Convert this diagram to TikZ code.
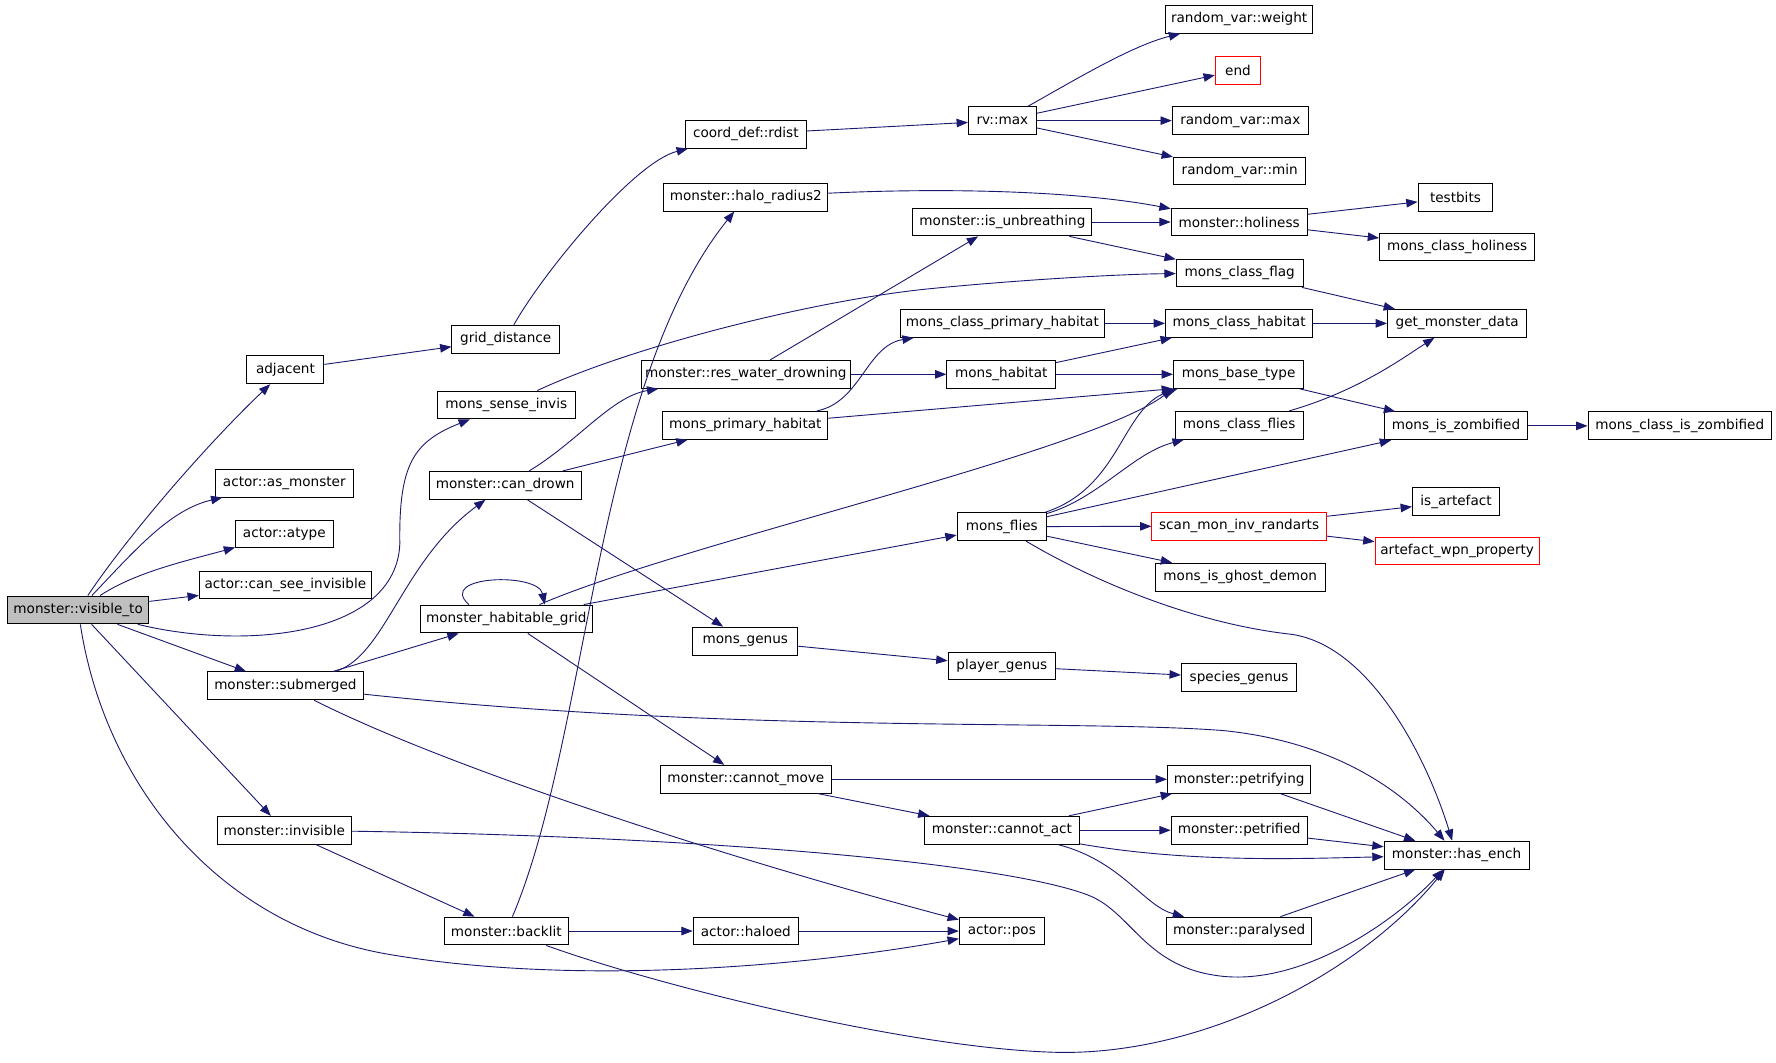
\documentclass[tikz,border=0pt]{standalone}
\usepackage{fontspec}
\setmainfont{DejaVu Sans}
\usepackage{tikz}
\usetikzlibrary{arrows.meta}
\definecolor{edgeblue}{HTML}{191970}
\definecolor{rootgray}{HTML}{BFBFBF}
\newcommand{\fnsize}{\fontsize{12pt}{14pt}\selectfont}
\tikzset{
  fn/.style={draw, rectangle, line width=0.85pt, minimum height=24.6pt, inner xsep=2pt, inner ysep=0pt, font=\fnsize},
  fnred/.style={fn, draw=red},
  fnroot/.style={fn, fill=rootgray},
  call/.style={->, draw=edgeblue, line width=0.8pt},
}

\begin{document}
\begin{tikzpicture}[x=1pt, y=-1pt, >={Triangle[length=10pt,width=7.5pt]}]
	\useasboundingbox (0,0) rectangle (1568,938.5);
	%Radice
	\node [fnroot, minimum width=125pt] (visto) at (69,538.5) {monster::visible\_to};
	%Prima colonna
	\node [fn, minimum width=68pt] (adj) at (252,326.5) {adjacent};
	\node [fn, minimum width=122pt] (asmon) at (251,426.5) {actor::as\_monster};
	\node [fn, minimum width=86pt] (atype) at (251,471.5) {actor::atype};
	\node [fn, minimum width=152pt] (csi) at (252,516.5) {actor::can\_see\_invisible};
	\node [fn, minimum width=138pt] (subm) at (252,605.5) {monster::submerged};
	\node [fn, minimum width=118pt] (invis) at (251,733) {monster::invisible};
	%Seconda colonna
	\node [fn, minimum width=95pt] (gd) at (446.5,299.5) {grid\_distance};
	\node [fn, minimum width=122pt] (sensei) at (447,357.5) {mons\_sense\_invis};
	\node [fn, minimum width=134pt] (candrown) at (446,428.5) {monster::can\_drown};
	\node [fn, minimum width=152pt] (hgrid) at (447,546.5) {monster\_habitable\_grid};
	\node [fn, minimum width=110pt] (blit) at (447,822) {monster::backlit};
	%Terza colonna
	\node [fn, minimum width=107pt] (rdist) at (658.5,118.5) {coord\_def::rdist};
	\node [fn, minimum width=145pt] (halo) at (658.5,174) {monster::halo\_radius2};
	\node [fn, minimum width=185pt] (rwd) at (658.5,330.5) {monster::res\_water\_drowning};
	\node [fn, minimum width=145.5pt] (mph) at (658,375.5) {mons\_primary\_habitat};
	\node [fn, minimum width=92.5pt] (mgenus) at (658,566) {mons\_genus};
	\node [fn, minimum width=151pt] (cmove) at (658.5,688) {monster::cannot\_move};
	\node [fn, minimum width=93pt] (haloed) at (658.5,822) {actor::haloed};
	%Quarta colonna
	\node [fn, minimum width=60pt] (rvmax) at (885,106.5) {rv::max};
	\node [fn, minimum width=158pt] (unbr) at (885,196) {monster::is\_unbreathing};
	\node [fn, minimum width=180pt] (cph) at (885,285.5) {mons\_class\_primary\_habitat};
	\node [fn, minimum width=96pt] (mhab) at (884,330.5) {mons\_habitat};
	\node [fn, minimum width=79pt] (flies) at (884.5,465) {mons\_flies};
	\node [fn, minimum width=95pt] (pgenus) at (884.5,588) {player\_genus};
	\node [fn, minimum width=137pt] (cact) at (884.5,733) {monster::cannot\_act};
	\node [fn, minimum width=75pt] (apos) at (884.5,822) {actor::pos};
	%Quinta colonna
	\node [fn, minimum width=130pt] (rvweight) at (1094,17) {random\_var::weight};
	\node [fnred, minimum width=40pt] (endfn) at (1093,62) {end};
	\node [fn, minimum width=120pt] (rvmaxr) at (1095,106.5) {random\_var::max};
	\node [fn, minimum width=117pt] (rvmin) at (1094.5,151) {random\_var::min};
	\node [fn, minimum width=120pt] (holi) at (1094,196) {monster::holiness};
	\node [fn, minimum width=112pt] (flag) at (1094.5,241) {mons\_class\_flag};
	\node [fn, minimum width=130pt] (chab) at (1094,285.5) {mons\_class\_habitat};
	\node [fn, minimum width=115pt] (bt) at (1093.5,330.5) {mons\_base\_type};
	\node [fn, minimum width=113pt] (cflies) at (1094,375.5) {mons\_class\_flies};
	\node [fnred, minimum width=154pt] (scan) at (1094,464.5) {scan\_mon\_inv\_randarts};
	\node [fn, minimum width=150pt] (ghost) at (1095,509.5) {mons\_is\_ghost\_demon};
	\node [fn, minimum width=102pt] (sgenus) at (1094,598.5) {species\_genus};
	\node [fn, minimum width=126.5pt] (petrifying) at (1094,688) {monster::petrifying};
	\node [fn, minimum width=120pt] (petrified) at (1094,733) {monster::petrified};
	\node [fn, minimum width=128pt] (para) at (1094,822) {monster::paralysed};
	%Sesta colonna
	\node [fn, minimum width=66pt] (testbits) at (1285,174.5) {testbits};
	\node [fn, minimum width=137pt] (cholv) at (1286.5,218) {mons\_class\_holiness};
	\node [fn, minimum width=123pt] (data) at (1286.5,285.5) {get\_monster\_data};
	\node [fn, minimum width=127pt] (zomb) at (1285.5,376) {mons\_is\_zombified};
	\node [fn, minimum width=77pt] (isart) at (1285.5,443) {is\_artefact};
	\node [fnred, minimum width=145pt] (awp) at (1286.5,486.5) {artefact\_wpn\_property};
	\node [fn, minimum width=128pt] (hasench) at (1286,755) {monster::has\_ench};
	\node [fn, minimum width=162pt] (czomb) at (1483,376) {mons\_class\_is\_zombified};
	%Chiamate dalla radice
	\draw [call] (visto) .. controls (115,470) and (185,390) .. (adj);
	\draw [call] (visto) .. controls (120,485) and (150,450) .. (asmon);
	\draw [call] (visto) .. controls (120,505) and (165,495) .. (atype);
	\draw [call] (visto) -- (csi);
	\draw [call] (visto) .. controls (220,575) and (350,560) .. (353,480) .. controls (352,410) and (365,390) .. (sensei);
	\draw [call] (visto) -- (subm);
	\draw [call] (visto) -- (invis);
	\draw [call] (visto) .. controls (92,690) and (190,815) .. (340,842) .. controls (500,870) and (700,855) .. (apos);
	%Prima colonna
	\draw [call] (adj) -- (gd);
	\draw [call] (subm) .. controls (340,580) and (355,495) .. (candrown);
	\draw [call] (subm) -- (hgrid);
	\draw [call] (subm) .. controls (400,680) and (650,760) .. (apos);
	\draw [call] (subm) .. controls (650,648) and (950,635) .. (1080,645) .. controls (1180,655) and (1240,700) .. (hasench);
	\draw [call] (invis) -- (blit);
	\draw [call] (invis) .. controls (600,738) and (880,760) .. (960,790) .. controls (1000,805) and (1010,855) .. (1080,862) .. controls (1150,869) and (1230,815) .. (hasench);
	%Seconda colonna
	\draw [call] (gd) .. controls (480,240) and (560,143) .. (rdist);
	\draw [call] (sensei) .. controls (560,305) and (720,265) .. (820,255) .. controls (900,247) and (990,242) .. (flag);
	\draw [call] (candrown) .. controls (510,390) and (540,350) .. (rwd);
	\draw [call] (candrown) -- (mph);
	\draw [call] (candrown) -- (mgenus);
	\draw [call] ([xshift=-33pt]hgrid.north) .. controls (385,508) and (475,505) .. ([xshift=34pt]hgrid.north);
	\draw [call] (hgrid) .. controls (600,480) and (960,400) .. (bt.south west);
	\draw [call] (hgrid) -- (flies);
	\draw [call] (hgrid) -- (cmove);
	\draw [call] (blit) .. controls (520,650) and (525,340) .. (halo);
	\draw [call] (blit) -- (haloed);
	\draw [call] (blit) .. controls (580,870) and (800,925) .. (930,929) .. controls (1060,933) and (1200,860) .. (hasench);
	%Terza colonna
	\draw [call] (rdist) -- (rvmax);
	\draw [call] (halo) .. controls (850,165) and (960,170) .. (holi);
	\draw [call] (rwd) -- (unbr);
	\draw [call] (rwd) -- (mhab);
	\draw [call] (mph) .. controls (760,355) and (765,305) .. (cph);
	\draw [call] (mph) -- (bt.south west);
	\draw [call] (mgenus) -- (pgenus);
	\draw [call] (cmove) -- (petrifying);
	\draw [call] (cmove) -- (cact);
	\draw [call] (haloed) -- (apos);
	%Quarta colonna
	\draw [call] (rvmax) .. controls (950,70) and (1000,40) .. (rvweight);
	\draw [call] (rvmax) -- (endfn);
	\draw [call] (rvmax) -- (rvmaxr);
	\draw [call] (rvmax) -- (rvmin);
	\draw [call] (unbr) -- (holi);
	\draw [call] (unbr) -- (flag);
	\draw [call] (cph) -- (chab);
	\draw [call] (mhab) -- (chab);
	\draw [call] (mhab) -- (bt);
	\draw [call] (flies) .. controls (990,430) and (990,360) .. ([xshift=4pt]bt.south west);
	\draw [call] (flies) .. controls (970,440) and (1000,400) .. (cflies);
	\draw [call] (flies) -- (zomb);
	\draw [call] (flies) -- (scan);
	\draw [call] (flies) -- (ghost);
	\draw [call] (flies) .. controls (960,510) and (1050,550) .. (1140,560) .. controls (1210,570) and (1260,670) .. (hasench);
	\draw [call] (pgenus) -- (sgenus);
	\draw [call] (cact) -- (petrifying);
	\draw [call] (cact) -- (petrified);
	\draw [call] (cact) .. controls (1050,762) and (1150,758) .. (hasench);
	\draw [call] (cact) .. controls (990,760) and (1010,800) .. (para);
	%Quinta colonna
	\draw [call] (holi) -- (testbits);
	\draw [call] (holi) -- (cholv);
	\draw [call] (flag) -- (data);
	\draw [call] (chab) -- (data);
	\draw [call] (bt) -- (zomb);
	\draw [call] (cflies) .. controls (1200,345) and (1240,315) .. (data);
	\draw [call] (scan) -- (isart);
	\draw [call] (scan) -- (awp);
	\draw [call] (petrifying) -- (hasench);
	\draw [call] (petrified) -- (hasench);
	\draw [call] (para) -- (hasench);
	%Sesta colonna
	\draw [call] (zomb) -- (czomb);
\end{tikzpicture}
\end{document}
